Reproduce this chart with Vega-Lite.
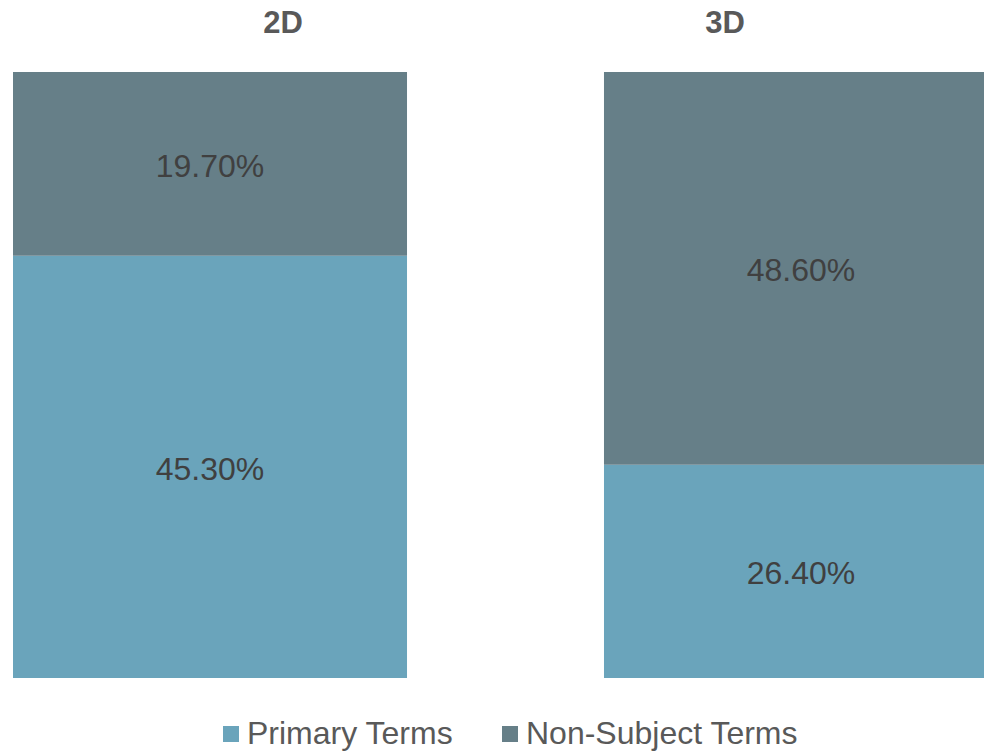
{
  "$schema": "https://vega.github.io/schema/vega-lite/v6.json",
  "width": 984,
  "height": 606,
  "autosize": "none",
  "padding": {"top": 72, "bottom": 73, "left": 0, "right": 0},
  "background": "white",
  "config": {"view": {"stroke": null}},
  "data": {
    "values": [
      {"dim": "2D", "term": "Primary Terms", "pct": 0.453},
      {"dim": "2D", "term": "Non-Subject Terms", "pct": 0.197},
      {"dim": "3D", "term": "Primary Terms", "pct": 0.264},
      {"dim": "3D", "term": "Non-Subject Terms", "pct": 0.486}
    ]
  },
  "transform": [
    {"stack": "pct", "groupby": ["dim"], "sort": [{"field": "term", "order": "descending"}], "offset": "normalize", "as": ["y0", "y1"]},
    {"calculate": "(datum.y0 + datum.y1) / 2", "as": "ymid"}
  ],
  "encoding": {
    "x": {
      "field": "dim",
      "type": "nominal",
      "scale": {"range": [0, 1011], "paddingInner": 0.3333, "paddingOuter": 0.022},
      "axis": {
        "orient": "top",
        "title": null,
        "domain": false,
        "ticks": false,
        "tickSize": 0,
        "labelAngle": 0,
        "labelFont": "Liberation Sans",
        "labelFontSize": 31,
        "labelFontWeight": "bold",
        "labelColor": "#595959",
        "labelPadding": 33,
        "labelOffset": {"condition": {"test": "datum.value === '2D'", "value": 73}, "value": -76}
      }
    }
  },
  "layer": [
    {
      "mark": {"type": "bar"},
      "encoding": {
        "y": {"field": "y0", "type": "quantitative", "scale": {"domain": [0, 1]}, "axis": null},
        "y2": {"field": "y1"},
        "color": {
          "field": "term",
          "type": "nominal",
          "scale": {"domain": ["Primary Terms", "Non-Subject Terms"], "range": ["#6AA4BB", "#667F88"]},
          "legend": {
            "title": null,
            "orient": "none",
            "direction": "horizontal",
            "legendX": 215,
            "legendY": 646,
            "padding": 0,
            "symbolType": "square",
            "symbolSize": 256,
            "symbolStrokeWidth": 0,
            "labelFont": "Liberation Sans",
            "labelFontSize": 32,
            "labelColor": "#595959",
            "labelLimit": 400,
            "labelOffset": 0,
            "columnPadding": 40
          }
        }
      }
    },
    {
      "mark": {"type": "text", "font": "Liberation Sans", "fontSize": 32, "color": "#404040", "baseline": "middle", "align": "center", "dy": 3},
      "encoding": {
        "y": {"field": "ymid", "type": "quantitative", "scale": {"domain": [0, 1]}},
        "text": {"field": "pct", "type": "quantitative", "format": ".2%"}
      }
    }
  ]
}
